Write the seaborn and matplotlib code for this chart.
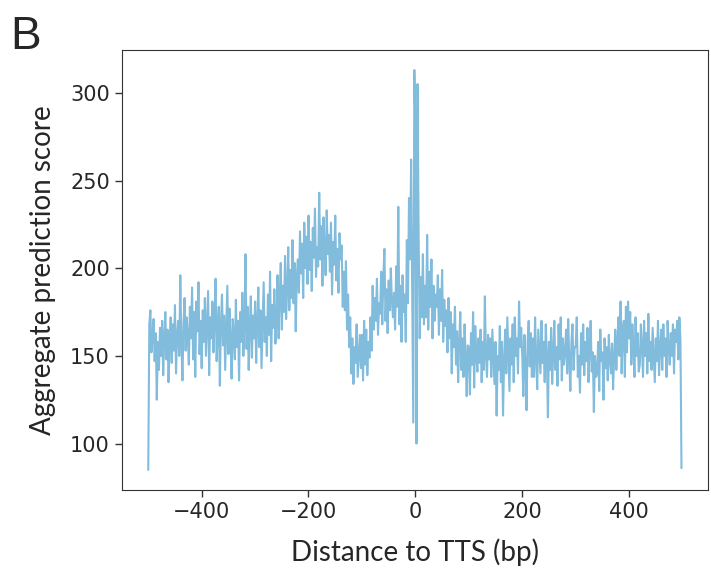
import numpy as np
import pandas as pd
import matplotlib
matplotlib.use("Agg")
import matplotlib.pyplot as plt
import seaborn as sns

# aggregate score, every 2 bp from -500 to +499
score = [
    85, 168, 176, 152, 160, 171, 147, 163, 125, 158,
    142, 166, 150, 170, 139, 161, 175, 148, 165, 135,
    157, 172, 146, 168, 153, 179, 140, 162, 170, 150,
    196, 158, 136, 168, 183, 153, 172, 161, 145, 178,
    160, 189, 148, 175, 138, 181, 164, 192, 151, 170,
    143, 176, 158, 183, 150, 168, 187, 139, 172, 160,
    181, 152, 170, 194, 147, 165, 178, 133, 168, 185,
    156, 173, 142, 166, 190, 151, 177, 160, 137, 171,
    163, 148, 182, 155, 170, 136, 175, 158, 186, 150,
    168, 208, 154, 178, 142, 166, 184, 149, 173, 160,
    181, 146, 170, 189, 155, 176, 143, 168, 192, 158,
    172, 150, 185, 162, 198, 147, 179, 166, 188, 157,
    170, 196, 160, 183, 203, 165, 190, 175, 207, 171,
    188, 212, 176, 199, 183, 216, 180, 203, 164, 195,
    205, 186, 221, 197, 214, 183, 226, 200, 218, 191,
    230, 199, 215, 187, 223, 206, 234, 195, 212, 201,
    243, 205, 224, 190, 229, 210, 196, 233, 208, 219,
    198, 226, 185, 215, 202, 230, 193, 211, 186, 220,
    205, 213, 178, 198, 176, 204, 165, 185, 155, 172,
    140, 160, 134, 155, 146, 168, 138, 150, 162, 143,
    162, 136, 170, 145, 165, 139, 158, 149, 172, 153,
    190, 165, 183, 170, 194, 162, 180, 174, 198, 168,
    195, 211, 170, 188, 163, 193, 176, 200, 181, 172,
    186, 165, 201, 178, 235, 168, 190, 158, 196, 175,
    185, 158, 216, 180, 240, 205, 262, 190, 112, 313,
    280, 100, 305, 220, 160, 195, 172, 208, 168, 190,
    172, 219, 165, 198, 178, 205, 160, 190, 170, 185,
    178, 196, 162, 188, 170, 199, 158, 182, 167, 176,
    152, 183, 160, 175, 140, 168, 155, 178, 145, 164,
    135, 158, 175, 142, 160, 138, 168, 150, 127, 156,
    155, 128, 163, 145, 175, 132, 167, 150, 141, 160,
    146, 165, 135, 158, 142, 184, 150, 138, 162, 148,
    160, 138, 165, 150, 134, 158, 116, 150, 142, 167,
    135, 158, 116, 147, 165, 140, 172, 152, 130, 160,
    145, 168, 135, 172, 150, 160, 140, 181, 155, 166,
    150, 127, 162, 145, 119, 158, 170, 144, 163, 138,
    160, 138, 172, 148, 131, 165, 152, 140, 170, 146,
    158, 135, 168, 150, 115, 158, 142, 166, 134, 153,
    170, 142, 155, 133, 168, 148, 172, 136, 160, 145,
    152, 165, 140, 171, 147, 130, 158, 168, 142, 155,
    155, 172, 138, 150, 129, 163, 145, 168, 139, 158,
    147, 166, 135, 155, 170, 141, 152, 118, 150, 138,
    140, 158, 130, 165, 147, 152, 125, 160, 143, 155,
    136, 162, 148, 140, 157, 131, 150, 165, 142, 158,
    172, 150, 181, 140, 165, 170, 138, 178, 152, 181,
    160, 175, 145, 168, 155, 138, 172, 150, 163, 141,
    145, 168, 155, 138, 170, 150, 163, 140, 174, 147,
    158, 142, 166, 151, 135, 160, 147, 170, 139, 155,
    165, 142, 168, 150, 160, 138, 170, 155, 145, 163,
    150, 168, 140, 165, 158, 170, 148, 172, 160, 86,
]
distance = np.linspace(-500, 499, len(score))

df = pd.DataFrame({"distance": distance, "score": score})

sns.set_style("ticks")
plt.rcParams["font.family"] = ["DejaVu Sans"]

fig = plt.figure(figsize=(7.11, 5.75), dpi=100)
ax = fig.add_axes([0.171, 0.148, 0.825, 0.765])

sns.lineplot(data=df, x="distance", y="score", color="#82bcdc", linewidth=1.5, ax=ax)

ax.set_yticks([100, 150, 200, 250, 300])
ax.set_xticks([-400, -200, 0, 200, 400])
ax.tick_params(labelsize=15, length=5, width=1, color="#333333")
for s in ax.spines.values():
    s.set_color("#333333")

ax.set_xlabel("Distance to TTS (bp)", fontsize=20, family="Lato", labelpad=12)
ax.set_ylabel("Aggregate prediction score", fontsize=20, family="Lato", labelpad=10)

fig.text(0.015, 0.915, "B", fontsize=33, family="Liberation Sans")

fig.savefig("out.png", dpi=100)
